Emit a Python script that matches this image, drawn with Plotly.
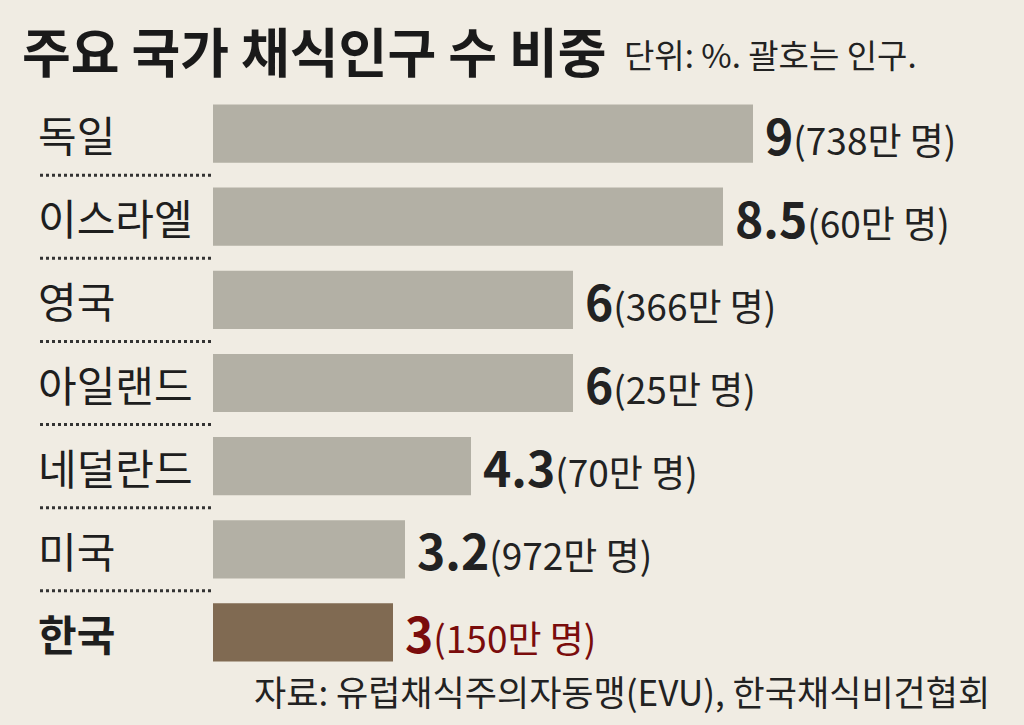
import plotly.graph_objects as go

countries = ["독일", "이스라엘", "영국", "아일랜드", "네덜란드", "미국", "한국"]
shares = [9, 8.5, 6, 6, 4.3, 3.2, 3]
population_man = [738, 60, 366, 25, 70, 972, 150]

title = "주요 국가 채식인구 수 비중"
subtitle = "단위: %. 괄호는 인구."
source = "자료: 유럽채식주의자동맹(EVU), 한국채식비건협회"

BG = "#f0ece3"
GRAY = "#b3b0a5"
BROWN = "#806a52"
DARKRED = "#7a0c0c"
FONT = "Noto Sans CJK KR"

W, H = 1024, 725
ML, MR, MT, MB = 213, 0, 92, 51
plot_w = W - ML - MR
plot_h = H - MT - MB

colors = [BROWN if c == "한국" else GRAY for c in countries]

fig = go.Figure(go.Bar(
    x=shares, y=countries, orientation="h",
    marker=dict(color=colors, line=dict(width=0)),
    hoverinfo="skip",
))

def px_x(px):
    return (px - ML) / plot_w

def px_y(py):
    return (H - MB - py) / plot_h

# value labels
for c, v, p in zip(countries, shares, population_man):
    col = DARKRED if c == "한국" else "#222222"
    fig.add_annotation(
        x=v, y=c, xref="x", yref="y", xanchor="left", yanchor="middle",
        xshift=10, showarrow=False,
        text=f"<b><span style='font-size:48px'>{v:g}</span></b>"
             f"<span style='font-size:37px'>({p}만 명)</span>",
        font=dict(family=FONT, color=col),
    )
    # category labels
    fig.add_annotation(
        x=px_x(36), y=c, xref="paper", yref="y",
        xanchor="left", yanchor="middle", showarrow=False,
        text=f"<b>{c}</b>" if c == "한국" else c,
        font=dict(family=FONT, size=42, color="#1e1e1e"),
    )

# dotted separators between rows
for i in range(len(countries) - 1):
    fig.add_shape(
        type="line", xref="paper", yref="y",
        x0=px_x(40), x1=px_x(213), y0=i + 0.5, y1=i + 0.5,
        line=dict(color="#333333", width=3, dash="dot"),
    )

# title / subtitle / source
fig.add_annotation(
    x=px_x(20), y=px_y(50), xref="paper", yref="paper",
    xanchor="left", yanchor="middle", showarrow=False,
    text=f"<b>{title}</b>",
    font=dict(family=FONT, size=53, color="#1a1a1a"),
)
fig.add_annotation(
    x=px_x(622), y=px_y(54), xref="paper", yref="paper",
    xanchor="left", yanchor="middle", showarrow=False,
    text=subtitle,
    font=dict(family=FONT, size=33, color="#222222"),
)
fig.add_annotation(
    x=px_x(992), y=px_y(690), xref="paper", yref="paper",
    xanchor="right", yanchor="middle", showarrow=False,
    text=source,
    font=dict(family=FONT, size=35, color="#222222"),
)

fig.update_layout(
    width=W, height=H,
    margin=dict(l=ML, r=MR, t=MT, b=MB),
    paper_bgcolor=BG, plot_bgcolor=BG,
    bargap=0.3, showlegend=False,
    xaxis=dict(range=[0, plot_w / 60], visible=False, fixedrange=True),
    yaxis=dict(autorange="reversed", showticklabels=False, showgrid=False,
               zeroline=False, fixedrange=True),
)

fig.write_html("out.html", config={"displayModeBar": False},
               post_script="document.body.style.margin='0';")
